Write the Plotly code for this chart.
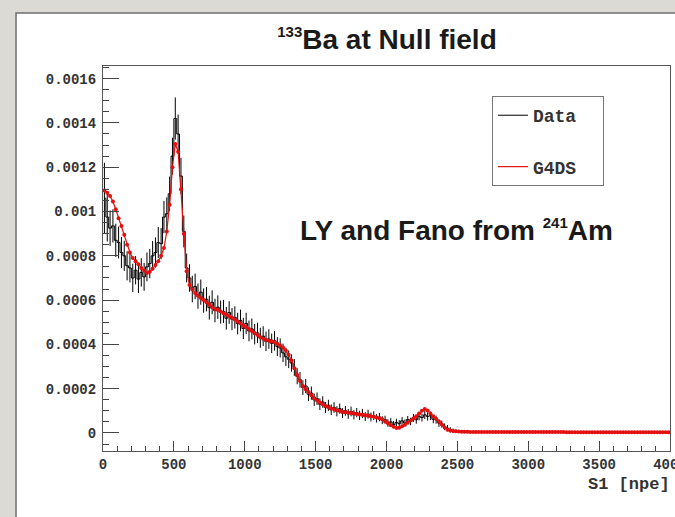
import numpy as np
import plotly.graph_objects as go

# Histogram binning of S1 (npe): 200 bins of 20 npe from 0 to 4000
BIN_WIDTH = 20
bin_centers = np.arange(10, 4000, BIN_WIDTH)

# Normalised spectra, stored in units of 1e-6
UNIT = 1e-6

data_counts = [
    1060, 975, 925, 935, 870, 860, 815, 800, 755, 745,
    700, 735, 695, 725, 705, 750, 765, 800, 815, 860,
    855, 975, 990, 1080, 1250, 1420, 1350, 1160, 910, 745,
    700, 650, 662, 618, 636, 598, 604, 566, 590, 553,
    568, 546, 549, 518, 544, 514, 522, 494, 508, 472,
    495, 461, 470, 446, 452, 430, 437, 414, 424, 405,
    416, 390, 384, 362, 344, 333, 316, 296, 256, 240,
    205, 212, 175, 180, 150, 155, 130, 140, 115, 125,
    105, 115, 98, 110, 90, 100, 86, 97, 82, 92,
    80, 88, 74, 85, 72, 78, 66, 72, 58, 60,
    45, 50, 38, 48, 42, 55, 45, 60, 52, 68,
    60, 75, 70, 82, 75, 78, 62, 60, 45, 40,
    28, 22, 14, 10, 8,
    9, 7, 5, 8, 6, 4, 7, 5, 6, 3, 6, 5, 4, 6, 3, 5, 4, 6, 4, 5, 3, 5, 4, 6, 4,
    4, 5, 3, 5, 4, 3, 5, 4, 4, 3, 5, 4, 3,
    4, 3, 4, 2, 4, 3, 5, 3, 3, 4, 2, 4, 3, 3, 4, 3, 5, 2, 4, 3, 3, 4, 3, 2, 4,
    3, 4, 3, 3, 4, 2, 3, 4, 3, 5, 3, 4,
]

data_errors = [
    160, 110, 80, 75, 75, 72, 70, 68, 66, 65,
    64, 64, 63, 64, 63, 65, 66, 67, 68, 70,
    70, 73, 74, 78, 83, 95, 88, 82, 72, 65,
    62, 60, 58, 57, 57, 55, 55, 54, 54, 53,
    53, 52, 52, 51, 51, 50, 50, 49, 49, 48,
    48, 47, 47, 46, 46, 45, 45, 44, 44, 44,
    44, 43, 43, 42, 41, 40, 39, 38, 36, 35,
    33, 32, 31, 30, 28, 28, 26, 26, 25, 25,
    24, 24, 23, 23, 22, 22, 22, 22, 21, 21,
    21, 21, 20, 20, 20, 20, 19, 19, 18, 18,
    17, 17, 16, 16, 16, 17, 16, 17, 17, 18,
    18, 18, 18, 19, 19, 19, 18, 18, 17, 16,
    15, 14, 12, 10, 8,
    4, 4, 3, 4, 3, 3, 4, 3, 3, 3, 3, 3, 3, 3, 3, 3, 3, 3, 3, 3, 3, 3, 3, 3, 3,
    3, 3, 3, 3, 3, 3, 3, 3, 3, 3, 3, 3, 3,
    3, 3, 3, 2, 3, 3, 3, 3, 3, 3, 2, 3, 3, 3, 3, 3, 3, 2, 3, 3, 3, 3, 3, 2, 3,
    3, 3, 3, 3, 3, 2, 3, 3, 3, 3, 3, 3,
]

g4ds_counts = [
    1095, 1085, 1070, 1045, 1010, 970, 935, 895, 850, 815,
    790, 775, 762, 745, 732, 722, 728, 742, 758, 775,
    800, 835, 910, 1030, 1200, 1305, 1270, 1100, 900, 730,
    668, 648, 632, 620, 610, 600, 590, 580, 568, 560,
    555, 548, 541, 534, 527, 520, 512, 503, 494, 485,
    477, 469, 460, 452, 442, 432, 426, 421, 417, 414,
    410, 403, 395, 386, 372, 353, 327, 292, 262, 235,
    212, 198, 185, 170, 157, 147, 138, 130, 122, 116,
    111, 107, 103, 99, 96, 94, 92, 90, 88, 86,
    84, 82, 80, 78, 76, 73, 70, 67, 62, 52,
    44, 35, 28, 23, 24, 30, 37, 46, 56, 66,
    76, 88, 100, 108, 102, 88, 76, 64, 52, 38,
    25, 15, 11, 9, 8,
    7, 6, 6, 6, 5, 5, 5, 5, 5, 5, 5, 5, 5, 5, 4, 4, 4, 4, 4, 4, 4, 4, 4, 4, 4,
    4, 4, 4, 4, 4, 4, 4, 4, 4, 4, 4, 4, 4,
    3, 3, 3, 3, 3, 3, 3, 3, 3, 3, 3, 3, 3, 3, 3, 3, 3, 3, 3, 3, 3, 3, 3, 3, 3,
    3, 3, 3, 3, 3, 3, 3, 3, 3, 3, 3, 3,
]

# Axis ticks
x_tick_vals = [0, 500, 1000, 1500, 2000, 2500, 3000, 3500, 4000]
x_tick_text = ["0", "500", "1000", "1500", "2000", "2500", "3000", "3500", "4000"]
y_tick_vals = [0, 0.0002, 0.0004, 0.0006, 0.0008, 0.001, 0.0012, 0.0014, 0.0016]
y_tick_text = ["0", "0.0002", "0.0004", "0.0006", "0.0008", "0.001", "0.0012", "0.0014", "0.0016"]

data_y = np.array(data_counts) * UNIT
data_err = np.array(data_errors) * UNIT
g4ds_y = np.array(g4ds_counts) * UNIT

MONO = "Liberation Mono, Courier New, monospace"
SANS = "Liberation Sans, Arial, Helvetica, sans-serif"
RED = "#e41010"

fig = go.Figure()

# Measured spectrum: histogram steps with vertical error bars
fig.add_trace(go.Scatter(
    x=bin_centers, y=data_y, name="Data\u00a0\u00a0", mode="lines",
    line=dict(color="black", width=1, shape="hvh"),
    error_y=dict(type="data", array=data_err, color="black", thickness=1, width=0),
    legendgroup="data", showlegend=True,
))

# Simulation (G4DS): thin line through the bin markers
fig.add_trace(go.Scatter(
    x=bin_centers, y=g4ds_y, name="G4DS\u00a0\u00a0", mode="lines",
    line=dict(color=RED, width=1.2),
    legendgroup="g4ds", showlegend=True,
))
fig.add_trace(go.Scatter(
    x=bin_centers, y=g4ds_y, mode="markers",
    marker=dict(color=RED, size=4),
    legendgroup="g4ds", showlegend=False, hoverinfo="skip",
))

axis_common = dict(
    showgrid=False, zeroline=False, showline=True, mirror=True,
    linecolor="#555555", linewidth=1,
    ticks="inside", tickcolor="#444444", tickwidth=1,
    ticklabeloverflow="allow", automargin=False,
    tickfont=dict(family=MONO, size=14, color="#333333", weight="bold"),
)

fig.update_xaxes(
    range=[0, 4000], tickmode="array", tickvals=x_tick_vals, ticktext=x_tick_text,
    ticklen=10,
    minor=dict(dtick=100, ticklen=5, ticks="inside", tickcolor="#444444"),
    **axis_common,
)
fig.update_yaxes(
    range=[-0.0000813, 0.001657], tickmode="array", tickvals=y_tick_vals, ticktext=y_tick_text,
    ticklen=16, ticklabelstandoff=3,
    minor=dict(dtick=0.00005, ticklen=6, ticks="inside", tickcolor="#444444"),
    **axis_common,
)

fig.update_layout(
    width=675, height=517,
    margin=dict(l=103, r=5, t=66, b=66, autoexpand=False),
    paper_bgcolor="#dbdad5",
    plot_bgcolor="white",
    title=dict(
        text="<b><sup><span style='font-size:15px'>133</span></sup>Ba at Null field</b>",
        x=387 / 675, xref="container", xanchor="center",
        y=1 - 39 / 517, yref="container", yanchor="middle",
        font=dict(family=SANS, size=28, color="#1a1a1a"),
    ),
    legend=dict(
        x=0.686, y=0.922, xanchor="left", yanchor="top",
        bgcolor="white", bordercolor="#777777", borderwidth=1,
        font=dict(family=MONO, size=18, color="#333333", weight="bold"),
        itemwidth=30, tracegroupgap=25, traceorder="grouped",
    ),
    shapes=[
        # white page panel behind the frame
        dict(type="rect", xref="paper", yref="paper", layer="below",
             x0=-0.1534, x1=1.02, y0=-0.18, y1=1.1377,
             fillcolor="white", line=dict(color="#6f6f6f", width=1.5)),
    ],
    annotations=[
        dict(text="<b>LY and Fano from <sup><span style='font-size:15px'>241</span></sup>Am</b>",
             xref="paper", yref="paper", x=0.344, y=0.575,
             xanchor="left", yanchor="middle", showarrow=False,
             font=dict(family=SANS, size=28, color="#1a1a1a")),
        dict(text="S1 [npe]", xref="paper", yref="paper", x=1.003, y=-0.088,
             xanchor="right", yanchor="middle", showarrow=False,
             font=dict(family=MONO, size=17, color="#333333", weight="bold")),
    ],
)

fig.write_html("out.html")
